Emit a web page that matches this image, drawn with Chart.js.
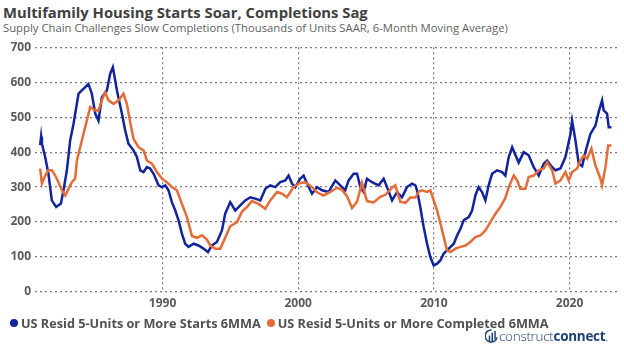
<!DOCTYPE html>
<html>
<head>
<meta charset="utf-8">
<script src="https://cdn.jsdelivr.net/npm/chart.js@4.4.1/dist/chart.umd.min.js"></script>
<style>
  body { margin: 0; width: 624px; height: 344px; background: #fff; position: relative; overflow: hidden; font-family: "Open Sans", sans-serif; }
  #title { position: absolute; left: 3px; top: 2px; font-size: 14.8px; font-weight: 700; color: #404040; white-space: nowrap; }
  #subtitle { position: absolute; left: 3px; top: 20px; font-size: 11.3px; color: #5f5f5f; white-space: nowrap; }
  #wrap { position: absolute; left: 0; top: 36px; width: 624px; height: 280px; }
  #legend { position: absolute; left: 10px; top: 314px; font-size: 12.7px; font-weight: 700; color: #505050; white-space: nowrap; }
  #legend span.dot { display: inline-block; width: 8px; height: 8px; border-radius: 50%; margin-right: 3px; vertical-align: 1px; }
  #legend span.item { margin-right: 6px; }
  #logo { position: absolute; left: 485px; top: 327px; font-size: 13.5px; color: #1d3f72; white-space: nowrap; letter-spacing: -0.3px; }
  #logo .light { font-weight: 300; }
  #logo .bold { font-weight: 700; }
  #logo svg { vertical-align: -3px; margin-right: 1px; }
</style>
</head>
<body>
<div id="title">Multifamily Housing Starts Soar, Completions Sag</div>
<div id="subtitle">Supply Chain Challenges Slow Completions (Thousands of Units SAAR, 6-Month Moving Average)</div>
<div id="wrap"><canvas id="chart"></canvas></div>
<div id="legend"></div>
<div id="logo"><svg width="13" height="15" viewBox="0 0 14 16"><path d="M7 1 A6.5 6.5 0 1 0 13 9" fill="none" stroke="#1d3f72" stroke-width="1.6"/><rect x="4" y="7" width="1.6" height="7" fill="#1d3f72"/><rect x="7" y="4" width="1.6" height="10" fill="#1d3f72"/><rect x="10" y="2" width="1.6" height="9" fill="#1d3f72"/></svg><span class="light">construct</span><span class="bold">connect</span><span class="light">.</span></div>
<script>
'use strict';

let canvasElem = document.getElementById('chart');

// Series names and colours
let seriesNames = ['US Resid 5-Units or More Starts 6MMA', 'US Resid 5-Units or More Completed 6MMA'];
let seriesColors = ['#12239E', '#E66C37'];

// Starts (thousands of units, SAAR, 6MMA)
let startsYears = [1980.98, 1981.05, 1981.11, 1981.35, 1981.59, 1981.84, 1982.16, 1982.51, 1982.70, 1982.95,
  1983.19, 1983.44, 1983.81, 1984.17, 1984.54, 1984.79, 1985.04, 1985.28, 1985.53, 1985.90,
  1986.14, 1986.34, 1986.64, 1987.01, 1987.25, 1987.49, 1987.86, 1988.11, 1988.36, 1988.60,
  1988.85, 1989.09, 1989.34, 1989.71, 1989.96, 1990.20, 1990.44, 1990.69, 1990.94, 1991.18,
  1991.43, 1991.67, 1991.92, 1992.29, 1992.65, 1993.02, 1993.35, 1993.64, 1994.01, 1994.38,
  1994.62, 1994.99, 1995.36, 1995.73, 1996.10, 1996.47, 1996.84, 1997.21, 1997.58, 1997.94,
  1998.31, 1998.68, 1999.05, 1999.29, 1999.54, 1999.79, 2000.15, 2000.40, 2000.65, 2001.02,
  2001.39, 2001.76, 2002.24, 2002.74, 2003.23, 2003.47, 2003.72, 2004.09, 2004.34, 2004.58,
  2004.82, 2005.07, 2005.44, 2005.93, 2006.30, 2006.55, 2006.92, 2007.29, 2007.65, 2008.02,
  2008.39, 2008.64, 2008.76, 2009.00, 2009.25, 2009.50, 2009.74, 2009.99, 2010.24, 2010.49,
  2010.73, 2011.10, 2011.47, 2011.72, 2011.96, 2012.20, 2012.57, 2012.82, 2013.06, 2013.30,
  2013.55, 2013.80, 2014.04, 2014.29, 2014.66, 2015.03, 2015.27, 2015.52, 2015.77, 2016.25,
  2016.62, 2016.99, 2017.36, 2017.73, 2018.10, 2018.35, 2018.72, 2018.96, 2019.33, 2019.70,
  2020.07, 2020.19, 2020.44, 2020.68, 2020.93, 2021.17, 2021.54, 2021.91, 2022.15, 2022.40,
  2022.52, 2022.77, 2022.89, 2023.09];
let startsValues = [420, 445, 424, 386, 338, 262, 243, 253, 291, 348,
  433, 481, 567, 581, 595, 567, 510, 490, 557, 576,
  624, 643, 576, 510, 462, 424, 405, 386, 348, 343,
  357, 353, 338, 305, 300, 305, 291, 257, 233, 205,
  167, 138, 129, 138, 133, 124, 114, 133, 143, 176,
  224, 257, 233, 248, 262, 271, 267, 262, 295, 305,
  300, 314, 319, 333, 310, 300, 324, 333, 310, 281,
  300, 291, 286, 319, 300, 291, 319, 338, 338, 300,
  286, 324, 314, 305, 324, 300, 262, 286, 271, 300,
  310, 305, 291, 243, 186, 138, 100, 76, 81, 91,
  110, 124, 138, 162, 181, 205, 214, 233, 276, 300,
  286, 262, 305, 338, 348, 343, 333, 386, 414, 370,
  400, 391, 357, 333, 367, 376, 357, 348, 353, 386,
  452, 490, 433, 367, 360, 400, 452, 476, 515, 548,
  519, 510, 471, 471];

// Completions (thousands of units, SAAR, 6MMA)
let completedYears = [1980.98, 1981.11, 1981.35, 1981.59, 1981.84, 1982.09, 1982.33, 1982.58, 1982.83, 1983.07,
  1983.32, 1983.56, 1983.69, 1983.93, 1984.17, 1984.42, 1984.67, 1985.04, 1985.28, 1985.53,
  1985.77, 1986.02, 1986.39, 1986.76, 1987.12, 1987.37, 1987.62, 1987.86, 1988.23, 1988.60,
  1988.85, 1989.22, 1989.59, 1989.96, 1990.32, 1990.69, 1991.06, 1991.43, 1991.80, 1992.17,
  1992.54, 1992.91, 1993.27, 1993.52, 1993.89, 1994.26, 1994.62, 1994.99, 1995.49, 1995.86,
  1996.22, 1996.59, 1997.08, 1997.57, 1997.94, 1998.44, 1998.81, 1999.17, 1999.66, 2000.03,
  2000.52, 2001.02, 2001.39, 2001.87, 2002.37, 2002.86, 2003.23, 2003.60, 2003.97, 2004.34,
  2004.70, 2005.07, 2005.56, 2006.05, 2006.42, 2006.92, 2007.16, 2007.53, 2007.90, 2008.27,
  2008.64, 2008.88, 2009.13, 2009.50, 2009.74, 2009.99, 2010.24, 2010.49, 2010.73, 2010.97,
  2011.22, 2011.59, 2011.96, 2012.33, 2012.69, 2013.06, 2013.43, 2013.80, 2014.17, 2014.54,
  2014.90, 2015.27, 2015.52, 2015.89, 2016.14, 2016.38, 2016.75, 2016.99, 2017.36, 2017.73,
  2018.10, 2018.35, 2018.72, 2018.96, 2019.33, 2019.70, 2019.94, 2020.19, 2020.56, 2020.80,
  2021.05, 2021.30, 2021.61, 2021.91, 2022.28, 2022.40, 2022.65, 2022.85, 2023.09];
let completedValues = [353, 310, 333, 348, 348, 333, 314, 291, 276, 295,
  314, 324, 376, 414, 452, 490, 529, 519, 519, 548,
  571, 548, 538, 548, 567, 538, 485, 438, 414, 405,
  376, 367, 343, 324, 314, 300, 291, 252, 214, 160,
  155, 162, 150, 133, 124, 124, 155, 188, 200, 230,
  243, 260, 252, 238, 262, 286, 281, 271, 300, 310,
  314, 300, 285, 276, 286, 298, 292, 274, 240, 258,
  312, 260, 256, 272, 278, 298, 305, 258, 255, 270,
  270, 286, 291, 286, 291, 262, 233, 195, 157, 119,
  114, 124, 129, 133, 143, 157, 162, 176, 200, 224,
  243, 269, 300, 333, 319, 295, 295, 329, 333, 348,
  353, 371, 348, 310, 319, 343, 319, 343, 353, 376,
  391, 381, 410, 362, 324, 305, 357, 419, 419];

// Axis settings
let yTicks = [0, 100, 200, 300, 400, 500, 600, 700];
let xTicks = [1990, 2000, 2010, 2020];

function toPoints(xs, ys) {
  let pts = [];
  for (let i = 0; i < xs.length; i++) {
    pts.push({ x: xs[i], y: ys[i] });
  }
  return pts;
}

// Legend in html
let legendElem = document.getElementById('legend');
for (let i = 0; i < seriesNames.length; i++) {
  legendElem.innerHTML += '<span class="item"><span class="dot" style="background:' + seriesColors[i] + '"></span>' + seriesNames[i] + '</span>';
}

let tickFont = { family: '"Open Sans", sans-serif', size: 12, weight: 'bold' };

function renderChart() {
  let chartObj = {
    type: 'line',
    data: {
      datasets: [{
        label: seriesNames[0],
        data: toPoints(startsYears, startsValues),
        borderColor: seriesColors[0],
        borderWidth: 2.5,
        pointRadius: 0,
        order: 1
      },
      {
        label: seriesNames[1],
        data: toPoints(completedYears, completedValues),
        borderColor: seriesColors[1],
        borderWidth: 2.5,
        pointRadius: 0,
        order: 0
      }
    ]
  },
    options: {
      responsive: true,
      maintainAspectRatio: false,
      animation: false,
      layout: { padding: { top: 10, right: 7, left: 0, bottom: 0 } },
      plugins: {
        legend: { display: false },
        tooltip: { enabled: false }
      },
      scales: {
        x: {
          type: 'linear',
          min: 1980.6,
          max: 2023.5,
          afterBuildTicks: (scale) => { scale.ticks = xTicks.map(v => ({ value: v })); },
          afterFit: (scale) => { scale.height = 24; },
          grid: { color: '#7a7a7a', lineWidth: 1.2, drawTicks: false },
          border: { display: false, dash: [2, 3] },
          ticks: {
            color: '#5a5a5a',
            font: tickFont,
            padding: 4,
            maxRotation: 0,
            callback: (v) => String(v)
          }
        },
        y: {
          min: 0,
          max: 700,
          afterBuildTicks: (scale) => { scale.ticks = yTicks.map(v => ({ value: v })); },
          afterFit: (scale) => { scale.width = 35; },
          grid: { color: '#7a7a7a', lineWidth: 1.2, drawTicks: false },
          border: { display: false, dash: [2, 3] },
          ticks: {
            color: '#5a5a5a',
            font: tickFont,
            padding: 4
          }
        }
      }
    }
  };
  new Chart(canvasElem, chartObj);
}

renderChart();
</script>
</body>
</html>
